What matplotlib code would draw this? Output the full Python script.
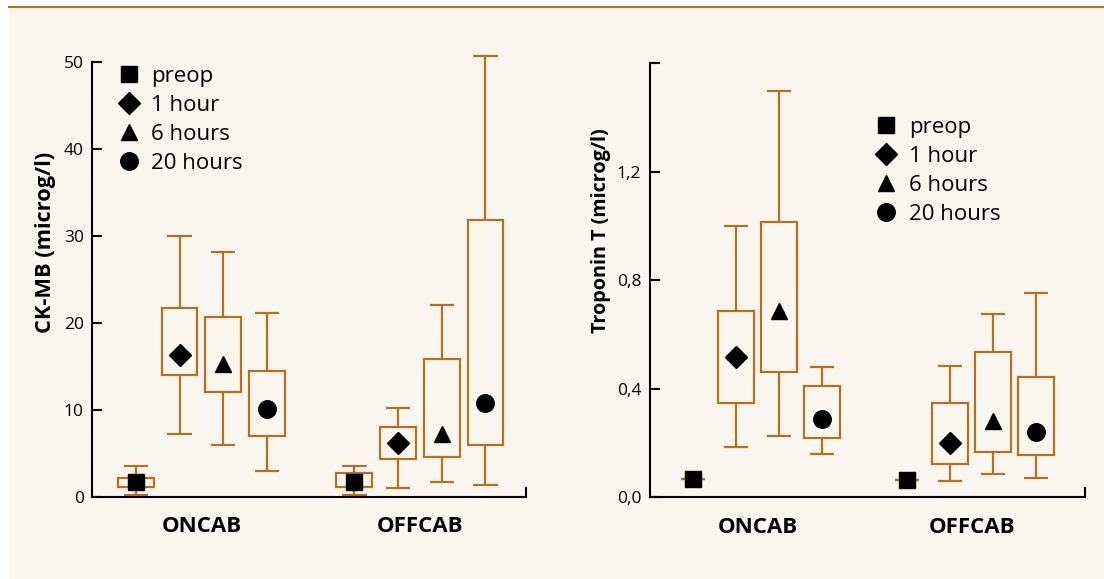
import matplotlib
matplotlib.use("Agg")
import matplotlib.pyplot as plt
from matplotlib.lines import Line2D
from matplotlib.patches import Rectangle

# ---------------- data ----------------
time_points = ["preop", "1 hour", "6 hours", "20 hours"]
groups = ["ONCAB", "OFFCAB"]
positions = [1, 2, 3, 4, 6, 7, 8, 9]  # ONCAB x4, OFFCAB x4

# CK-MB (microg/l)
ck_whislo = [0.2, 7.2, 6.0, 3.0, 0.2, 1.0, 1.7, 1.3]
ck_q1 = [1.15, 14.0, 12.0, 7.0, 1.15, 4.35, 4.6, 6.0]
ck_q3 = [2.15, 21.7, 20.65, 14.5, 2.7, 8.0, 15.8, 31.8]
ck_whishi = [3.5, 30.0, 28.1, 21.15, 3.5, 10.2, 22.0, 50.65]
ck_center = [1.65, 16.3, 15.2, 10.05, 1.65, 6.15, 7.25, 10.8]

# Troponin T (microg/l)
tn_whislo = [0.067, 0.187, 0.225, 0.161, 0.063, 0.061, 0.087, 0.072]
tn_q1 = [0.067, 0.348, 0.462, 0.22, 0.063, 0.122, 0.168, 0.155]
tn_q3 = [0.067, 0.686, 1.014, 0.41, 0.063, 0.349, 0.534, 0.443]
tn_whishi = [0.067, 1.0, 1.498, 0.481, 0.063, 0.485, 0.676, 0.754]
tn_center = [0.067, 0.517, 0.687, 0.287, 0.063, 0.199, 0.280, 0.241]

ck_ticks = [0, 10, 20, 30, 40, 50]
ck_ticklabels = ["0", "10", "20", "30", "40", "50"]
tn_ticks = [0.0, 0.4, 0.8, 1.2, 1.6]
tn_ticklabels = ["0,0", "0,4", "0,8", "1,2", ""]

# ---------------- style ----------------
BOX = "#b3701f"
BG = "#f9f5ef"
FONT = ["Open Sans", "DejaVu Sans"]
plt.rcParams["font.family"] = FONT

markers = ["s", "D", "^", "o"]
msizes = [12.0, 10.9, 12.2, 12.6]

W, H = 1104, 579
fig = plt.figure(figsize=(W / 100, H / 100), dpi=100, facecolor="white")

# cream panel and top rule
fig.patches.append(Rectangle((9 / W, 0), 1 - 9 / W, 1 - 7 / H, transform=fig.transFigure,
                             facecolor=BG, edgecolor="none", zorder=-10))
fig.add_artist(Line2D([9 / W, 1], [1 - 6.7 / H, 1 - 6.7 / H], transform=fig.transFigure,
                      color=BOX, lw=1.5, zorder=-5))


def draw_panel(ax, whislo, q1, q3, whishi, center, boxw, capw):
    for i, x in enumerate(positions):
        k = i % 4
        if q3[i] > q1[i]:
            ax.add_patch(Rectangle((x - boxw / 2, q1[i]), boxw, q3[i] - q1[i],
                                   facecolor="none", edgecolor=BOX, lw=1.6, zorder=2,
                                   clip_on=False))
        ax.vlines(x, q3[i], whishi[i], color=BOX, lw=1.6, zorder=2, clip_on=False)
        ax.vlines(x, whislo[i], q1[i], color=BOX, lw=1.6, zorder=2, clip_on=False)
        ax.hlines([whislo[i], whishi[i]], x - capw / 2, x + capw / 2, color=BOX, lw=1.6,
                  zorder=2, clip_on=False)
        ax.plot([x], [center[i]], marker=markers[k], ms=msizes[k], color="black",
                linestyle="none", zorder=4, clip_on=False)


def style_axes(ax, xlim, ylim, yticks, yticklabels):
    ax.set_facecolor("none")
    ax.set_xlim(*xlim)
    ax.set_ylim(*ylim)
    for s in ["top", "right"]:
        ax.spines[s].set_visible(False)
    for s in ["left", "bottom"]:
        ax.spines[s].set_linewidth(1.5)
        ax.spines[s].set_color("black")
    ax.set_yticks(yticks)
    ax.set_yticklabels(yticklabels)
    ax.tick_params(axis="y", direction="in", length=7.5, width=1.5, pad=6,
                   labelsize=12.5, colors="black")
    centers = [sum(positions[0:4]) / 4, sum(positions[4:8]) / 4]
    ax.set_xticks(centers)
    ax.set_xticklabels(groups, fontweight="bold", fontsize=16)
    ax.tick_params(axis="x", which="major", length=0, pad=14)
    ax.set_xticks([xlim[1]], minor=True)
    ax.tick_params(axis="x", which="minor", direction="in", length=7.5, width=1.5)


handles = [Line2D([], [], marker=m, ms=s, color="black", linestyle="none")
           for m, s in zip(markers, msizes)]

# ---------------- left panel ----------------
ax1 = fig.add_axes([92.1 / W, 1 - 496.7 / H, 434 / W, 435 / H])
draw_panel(ax1, ck_whislo, ck_q1, ck_q3, ck_whishi, ck_center, 0.82, 0.56)
style_axes(ax1, (0, 9.93), (0, 50), ck_ticks, ck_ticklabels)
fig.text(46 / W, 1 - 242 / H, "CK-MB (microg/l)", rotation=90, ha="center", va="center",
         fontsize=15.7, fontweight="bold")
fig.legend(handles, time_points, loc="upper left", bbox_to_anchor=(117.6 / W, 1 - 66 / H),
           frameon=False, fontsize=16, handlelength=1.0, handletextpad=0.52,
           labelspacing=0.36, borderpad=0, borderaxespad=0)

# ---------------- right panel ----------------
ax2 = fig.add_axes([649.5 / W, 1 - 497.3 / H, 435.5 / W, 434.1 / H])
draw_panel(ax2, tn_whislo, tn_q1, tn_q3, tn_whishi, tn_center, 0.84, 0.56)
style_axes(ax2, (-0.02, 10.15), (0, 1.6), tn_ticks, tn_ticklabels)
fig.text(601 / W, 1 - 230.5 / H, "Troponin T (microg/l)", rotation=90, ha="center",
         va="center", fontsize=14.2, fontweight="bold")
fig.legend(handles, time_points, loc="upper left", bbox_to_anchor=(875.2 / W, 1 - 117 / H),
           frameon=False, fontsize=16, handlelength=1.0, handletextpad=0.52,
           labelspacing=0.36, borderpad=0, borderaxespad=0)

fig.savefig("out.png", dpi=100, facecolor="white")
